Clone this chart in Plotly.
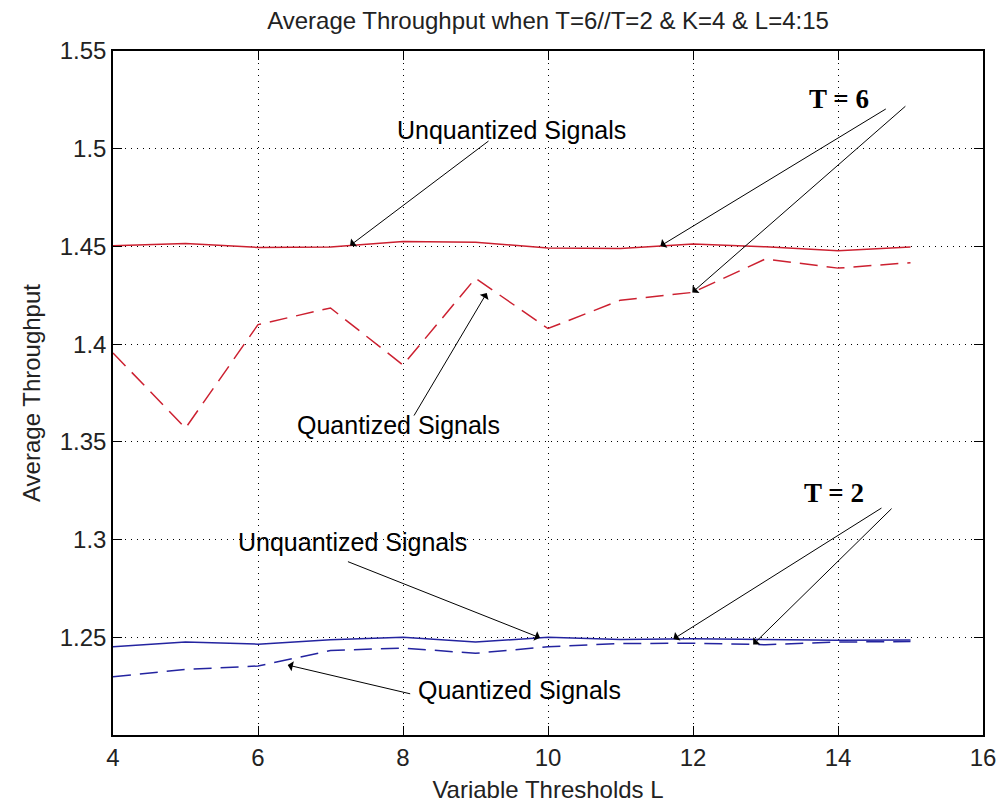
import numpy as np
import plotly.graph_objects as go

# Threshold values L
L = [4, 5, 6, 7, 8, 9, 10, 11, 12, 13, 14, 15]

# T = 6
t6_unquantized = [1.4503, 1.4515, 1.4495, 1.4497, 1.4525, 1.4522, 1.4492, 1.4490, 1.4512, 1.4498, 1.4478, 1.4497]
t6_quantized = [1.3955, 1.3570, 1.4100, 1.4185, 1.3893, 1.4337, 1.4080, 1.4225, 1.4265, 1.4436, 1.4389, 1.4417]

# T = 2
t2_unquantized = [1.2452, 1.2476, 1.2465, 1.2488, 1.2500, 1.2476, 1.2500, 1.2489, 1.2492, 1.2487, 1.2485, 1.2486]
t2_quantized = [1.2298, 1.2336, 1.2353, 1.2432, 1.2445, 1.2418, 1.2452, 1.2468, 1.2470, 1.2462, 1.2476, 1.2478]

x_ticks = [4, 6, 8, 10, 12, 14, 16]
y_ticks = [1.25, 1.3, 1.35, 1.4, 1.45, 1.5, 1.55]
y_tick_text = ["1.25", "1.3", "1.35", "1.4", "1.45", "1.5", "1.55"]

RED = "#cc2030"
BLUE = "#2424a0"
FONT = "Liberation Sans, Arial, sans-serif"
SERIF = "Liberation Serif, Times New Roman, serif"
DASH = "18px,9px"

fig = go.Figure()
fig.add_trace(go.Scatter(x=L, y=t6_unquantized, mode="lines",
                         line=dict(color=RED, width=1.5), showlegend=False))
fig.add_trace(go.Scatter(x=L, y=t6_quantized, mode="lines",
                         line=dict(color=RED, width=1.5, dash=DASH), showlegend=False))
fig.add_trace(go.Scatter(x=L, y=t2_unquantized, mode="lines",
                         line=dict(color=BLUE, width=1.5), showlegend=False))
fig.add_trace(go.Scatter(x=L, y=t2_quantized, mode="lines",
                         line=dict(color=BLUE, width=1.5, dash=DASH), showlegend=False))


def on_line(series, at):
    return float(np.interp(at, L, series))


# Arrows: (tip_x, tip_y, tail_x, tail_y)
arrows = [
    (7.27, on_line(t6_unquantized, 7.27), 9.20, 1.5045),
    (11.55, on_line(t6_unquantized, 11.55), 14.68, 1.5208),
    (11.99, on_line(t6_quantized, 11.99), 14.95, 1.5224),
    (9.155, 1.4262, 8.14, 1.3627),
    (9.89, on_line(t2_unquantized, 9.89), 7.22, 1.2890),
    (11.73, on_line(t2_unquantized, 11.73), 14.62, 1.3166),
    (12.83, on_line(t2_quantized, 12.83), 14.76, 1.3166),
    (6.41, 1.2358, 8.12, 1.2209),
]

annotations = []
for tx, ty, sx, sy in arrows:
    annotations.append(dict(
        x=tx, y=ty, ax=sx, ay=sy, xref="x", yref="y", axref="x", ayref="y",
        text="", showarrow=True, arrowhead=1, arrowsize=1.7, arrowwidth=1,
        arrowcolor="black", standoff=0, startstandoff=0,
    ))

labels = [
    ("Unquantized Signals", 9.50, 1.5096, FONT, 25, False),
    ("Quantized Signals", 7.94, 1.3587, FONT, 25, False),
    ("Unquantized Signals", 7.30, 1.2990, FONT, 25, False),
    ("Quantized Signals", 9.61, 1.2230, FONT, 25, False),
    ("T = 6", 14.02, 1.5253, SERIF, 27, True),
    ("T = 2", 13.95, 1.3238, SERIF, 27, True),
]
for text, x, y, family, size, bold in labels:
    annotations.append(dict(
        x=x, y=y, xref="x", yref="y", showarrow=False,
        text=f"<b>{text}</b>" if bold else text,
        font=dict(family=family, size=size, color="black"),
        xanchor="center", yanchor="middle",
    ))

axis_common = dict(
    showline=True, linecolor="black", linewidth=1.5, mirror="allticks",
    ticks="inside", ticklen=9, tickwidth=1, tickcolor="black",
    showgrid=True, gridcolor="black", gridwidth=1, griddash="1px,5px",
    zeroline=False, automargin=False,
    tickfont=dict(family=FONT, size=24, color="#222"),
)

fig.update_layout(
    width=1000, height=807,
    margin=dict(l=113, r=17, t=51, b=72),
    paper_bgcolor="white", plot_bgcolor="white",
    title=dict(text="Average Throughput when T=6//T=2 & K=4 & L=4:15",
               font=dict(family=FONT, size=24, color="#222"),
               x=0.548, xanchor="center", y=0.975, yanchor="middle"),
    xaxis=dict(range=[4, 16], tickvals=x_ticks, **axis_common,
               title=dict(text="Variable Thresholds L",
                          font=dict(family=FONT, size=24, color="#222"), standoff=12)),
    yaxis=dict(range=[1.2, 1.55], tickvals=y_ticks, ticktext=y_tick_text, **axis_common,
               title=dict(text="Average Throughput",
                          font=dict(family=FONT, size=24, color="#222"), standoff=12)),
    annotations=annotations,
)

fig.write_html("out.html")
